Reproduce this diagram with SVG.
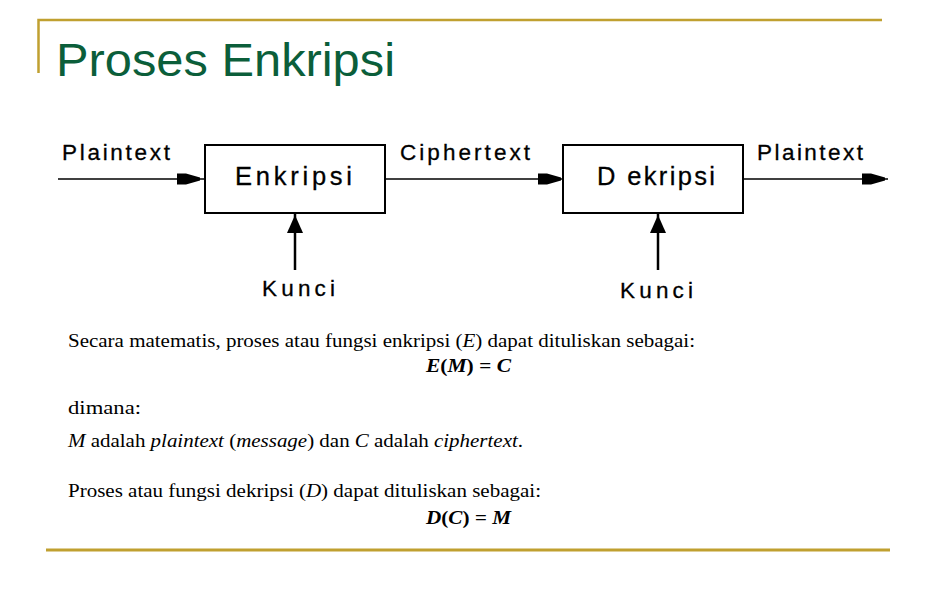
<svg xmlns="http://www.w3.org/2000/svg" width="936" height="612" viewBox="0 0 936 612">
<defs>
<style>
.gold{stroke:#C0A030;fill:none}
.box{fill:#fff;stroke:#000;stroke-width:2}
.ln{stroke:#000;stroke-width:1.3;fill:none}
.vl{stroke:#000;stroke-width:2.5;fill:none}
.lab{font-family:"Liberation Sans",Arial,sans-serif;font-size:22.5px;fill:#000;stroke:#000;stroke-width:0.3}
.big{font-family:"Liberation Sans",Arial,sans-serif;font-size:25.5px;fill:#000;stroke:#000;stroke-width:0.3}
.body{font-family:"Liberation Serif","Times New Roman",serif;font-size:18px;fill:#000}
.it{font-style:italic}
.bi{font-style:italic;font-weight:bold}
</style>
</defs>
<rect width="936" height="612" fill="#fff"/>
<g id="frame">
<path class="gold" stroke-width="2.5" d="M38.5,73 V20 H882"/>
<path class="gold" stroke-width="3" d="M46,550 H890"/>
</g>
<text x="56" y="76" font-family="Liberation Sans,Arial,sans-serif" font-size="47" fill="#0B5E3A" textLength="339" lengthAdjust="spacingAndGlyphs">Proses Enkripsi</text>
<g id="connectors">
<path class="ln" d="M58,179 H205"/>
<path d="M177,173.5 H186 L200,177.5 V180.5 L186,184.5 H177 Z" fill="#000"/>
<path class="ln" d="M385,179 H563"/>
<path d="M538,173.5 H547 L561,177.5 V180.5 L547,184.5 H538 Z" fill="#000"/>
<path class="ln" d="M743,179 H888"/>
<path d="M862,173.5 H871 L885,177.5 V180.5 L871,184.5 H862 Z" fill="#000"/>
<path class="vl" d="M295,213 V270"/>
<path d="M295,215 L303,233 H287 Z" fill="#000"/>
<path class="vl" d="M658,213 V270"/>
<path d="M658,215 L666,233 H650 Z" fill="#000"/>
</g>
<g id="enkripsi">
<rect class="box" x="205" y="145" width="180" height="68"/>
<text class="big" x="235" y="185" textLength="117" lengthAdjust="spacing">Enkripsi</text>
</g>
<g id="dekripsi">
<rect class="box" x="563" y="145" width="180" height="68"/>
<text class="big" x="597" y="185" textLength="118" lengthAdjust="spacing">D ekripsi</text>
</g>
<g id="labels">
<text class="lab" x="62" y="160" textLength="108" lengthAdjust="spacing">Plaintext</text>
<text class="lab" x="400" y="160" textLength="130" lengthAdjust="spacing">Ciphertext</text>
<text class="lab" x="757" y="160" textLength="106" lengthAdjust="spacing">Plaintext</text>
<text class="lab" x="262" y="296" textLength="73" lengthAdjust="spacing">Kunci</text>
<text class="lab" x="620" y="298" textLength="73" lengthAdjust="spacing">Kunci</text>
</g>
<g id="text">
<text class="body" x="68" y="347" textLength="627" lengthAdjust="spacingAndGlyphs">Secara matematis, proses atau fungsi enkripsi (<tspan class="it">E</tspan>) dapat dituliskan sebagai:</text>
<text class="body bi" x="426" y="372" textLength="85" lengthAdjust="spacingAndGlyphs">E<tspan font-style="normal">(</tspan>M<tspan font-style="normal">)</tspan> = C</text>
<text class="body" x="68" y="414" textLength="73" lengthAdjust="spacingAndGlyphs">dimana:</text>
<text class="body" x="68" y="447" textLength="455" lengthAdjust="spacingAndGlyphs"><tspan class="it">M</tspan> adalah <tspan class="it">plaintext</tspan> (<tspan class="it">message</tspan>) dan <tspan class="it">C</tspan> adalah <tspan class="it">ciphertext</tspan>.</text>
<text class="body" x="68" y="497" textLength="473" lengthAdjust="spacingAndGlyphs">Proses atau fungsi dekripsi (<tspan class="it">D</tspan>) dapat dituliskan sebagai:</text>
<text class="body bi" x="426" y="524" textLength="85" lengthAdjust="spacingAndGlyphs">D<tspan font-style="normal">(</tspan>C<tspan font-style="normal">)</tspan> = M</text>
</g>
</svg>
